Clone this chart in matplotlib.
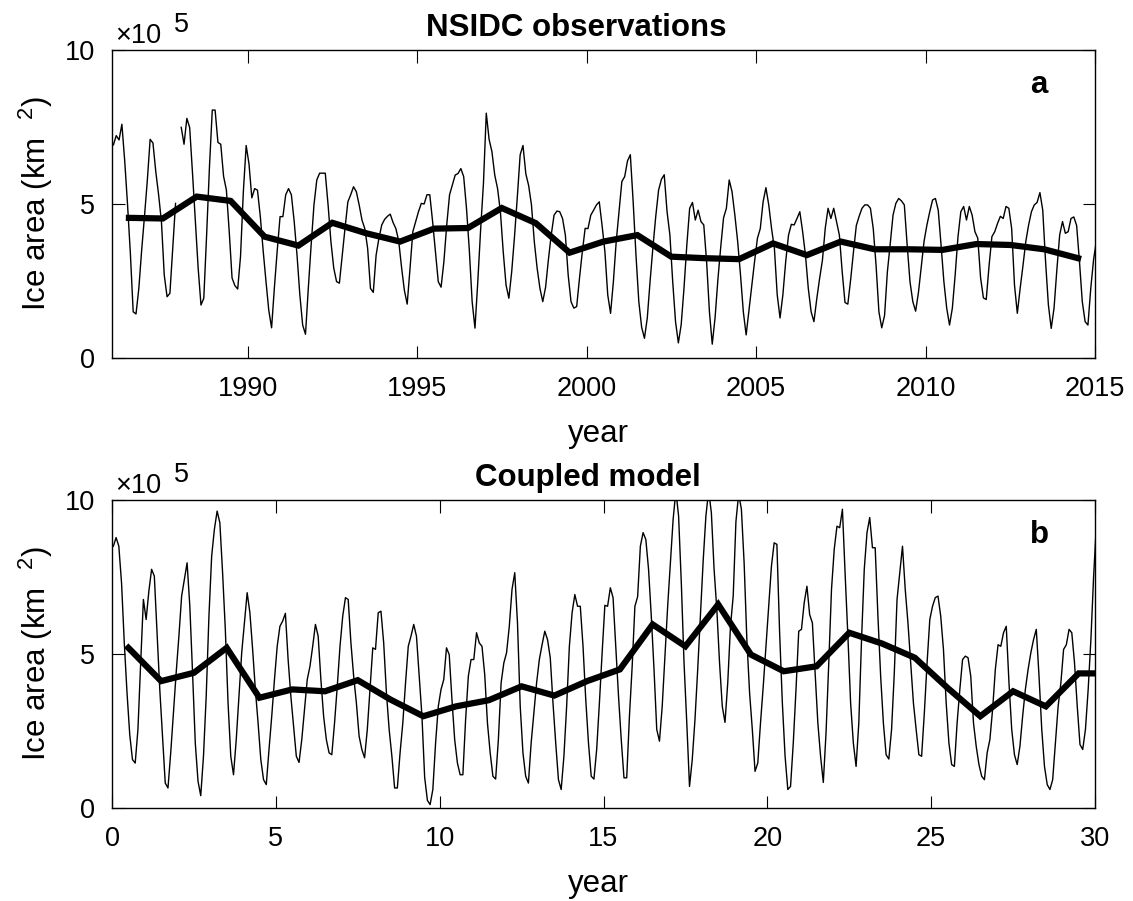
import matplotlib
matplotlib.use('Agg')
import matplotlib.pyplot as plt
import numpy as np

plt.rcParams['font.family'] = ['Liberation Sans', 'DejaVu Sans']
plt.rcParams['mathtext.fontset'] = 'custom'
plt.rcParams['mathtext.rm'] = 'Liberation Sans'

nan = np.nan

# NSIDC monthly ice area (x 1e5 km^2), one row per year 1986..2014, Jan..Dec
nsidc_years = list(range(1986, 2015))
nsidc_monthly = [
    [6.92, 7.22, 7.08, 7.59, 6.40, 4.98, 3.40, 1.50, 1.43, 2.26, 3.50, 4.60],
    [5.76, 7.10, 6.98, 6.05, 5.30, 4.43, 2.69, 1.99, 2.10, 3.56, 5.02, nan],
    [7.49, 6.94, 7.78, 7.48, 6.00, 4.43, 2.92, 1.72, 1.94, 4.00, 6.20, 8.05],
    [8.05, 7.00, 6.94, 5.90, 5.45, 4.10, 2.60, 2.35, 2.24, 3.30, 5.40, 6.90],
    [6.30, 5.20, 5.50, 5.45, 4.60, 3.50, 2.50, 1.55, 0.98, 2.30, 3.50, 4.59],
    [4.59, 5.30, 5.50, 5.30, 4.43, 3.34, 2.05, 1.07, 0.77, 2.27, 3.67, 4.97],
    [5.78, 6.00, 6.00, 6.00, 4.97, 3.78, 2.92, 2.48, 2.43, 3.34, 4.22, 5.07],
    [5.30, 5.56, 5.40, 4.97, 4.48, 4.20, 3.56, 2.26, 2.13, 3.34, 3.89, 4.32],
    [4.50, 4.60, 4.67, 4.40, 4.20, 3.80, 2.95, 2.20, 1.75, 2.90, 4.10, 4.43],
    [4.75, 5.02, 5.00, 5.30, 5.30, 4.43, 3.45, 2.48, 2.30, 3.13, 4.32, 5.30],
    [5.62, 5.94, 5.99, 6.15, 5.89, 4.86, 3.50, 1.83, 0.97, 2.48, 4.17, 5.67],
    [7.95, 7.10, 6.70, 5.94, 5.50, 4.75, 3.45, 2.37, 1.94, 2.80, 3.95, 5.24],
    [6.60, 6.90, 5.98, 5.60, 4.97, 3.78, 2.92, 2.26, 1.83, 2.30, 3.20, 4.00],
    [4.64, 4.77, 4.75, 4.53, 3.99, 2.69, 1.83, 1.62, 1.67, 2.59, 3.45, 4.21],
    [4.20, 4.64, 4.80, 4.97, 5.07, 4.30, 3.45, 2.05, 1.45, 2.48, 3.78, 4.75],
    [5.73, 5.89, 6.40, 6.60, 5.07, 3.34, 1.83, 1.00, 0.64, 1.30, 2.50, 3.60],
    [4.60, 5.45, 5.80, 5.95, 4.75, 4.00, 2.48, 1.18, 0.49, 1.08, 2.27, 3.67],
    [4.86, 5.05, 4.48, 4.80, 4.43, 4.32, 3.13, 1.50, 0.45, 1.31, 2.55, 3.60],
    [4.55, 4.86, 5.78, 5.40, 4.64, 3.78, 2.70, 1.50, 0.75, 1.56, 2.37, 3.15],
    [3.89, 4.20, 5.07, 5.53, 4.97, 4.20, 3.56, 2.05, 1.30, 2.05, 3.13, 3.99],
    [4.34, 4.32, 4.53, 4.75, 4.10, 3.34, 2.26, 1.50, 1.18, 1.92, 2.58, 3.17],
    [4.21, 4.86, 4.53, 4.86, 4.43, 3.99, 2.80, 1.80, 1.75, 2.55, 3.45, 4.30],
    [4.60, 4.86, 4.97, 4.97, 4.86, 4.20, 3.00, 1.50, 0.98, 1.38, 2.80, 3.70],
    [4.64, 5.02, 5.18, 5.10, 4.97, 3.67, 2.48, 1.83, 1.52, 2.13, 2.95, 3.80],
    [4.32, 4.75, 5.13, 5.18, 4.80, 3.67, 2.48, 1.62, 1.07, 1.62, 2.70, 3.94],
    [4.75, 4.92, 4.48, 4.92, 4.64, 4.10, 3.89, 2.60, 1.95, 1.90, 3.00, 3.94],
    [4.10, 4.37, 4.60, 4.53, 4.92, 4.86, 4.20, 2.37, 1.45, 2.26, 3.00, 3.78],
    [4.32, 4.75, 4.97, 5.05, 5.37, 4.80, 3.13, 1.72, 0.96, 1.62, 2.87, 4.00],
    [4.43, 4.05, 4.10, 4.53, 4.58, 4.30, 3.13, 1.83, 1.18, 1.07, 2.26, 3.20],
]
nsidc_jan2015 = 3.8
nsidc_annual = [4.55, 4.53, 5.24, 5.10, 3.94, 3.65, 4.39, 4.05, 3.78, 4.20,
                4.22, 4.87, 4.38, 3.42, 3.78, 3.99, 3.29, 3.24, 3.21, 3.72,
                3.34, 3.78, 3.53, 3.53, 3.51, 3.70, 3.67, 3.53, 3.24]

# coupled model monthly ice area, model years 0..29
model_monthly = [
    [8.50, 8.78, 8.50, 7.30, 5.36, 3.74, 2.38, 1.57, 1.46, 2.55, 4.71, 6.77],
    [6.12, 7.04, 7.75, 7.53, 5.69, 3.85, 2.33, 0.81, 0.65, 1.79, 3.09, 4.39],
    [5.58, 6.88, 7.42, 7.96, 6.55, 4.39, 2.11, 0.87, 0.40, 1.68, 3.63, 6.23],
    [8.18, 9.05, 9.64, 9.26, 7.64, 5.80, 3.41, 1.68, 1.08, 2.22, 3.63, 5.04],
    [6.01, 6.99, 6.34, 5.15, 3.85, 2.76, 1.57, 0.92, 0.76, 1.90, 2.98, 4.17],
    [5.25, 5.90, 6.07, 6.32, 4.82, 3.63, 2.65, 1.68, 1.48, 2.22, 3.20, 4.17],
    [4.60, 5.25, 5.96, 5.58, 4.17, 2.98, 2.22, 1.79, 1.73, 2.76, 3.95, 5.25],
    [6.23, 6.83, 6.77, 5.36, 4.28, 3.41, 2.33, 1.90, 1.63, 2.55, 3.85, 5.20],
    [5.15, 6.34, 6.39, 5.36, 3.74, 2.55, 1.68, 0.65, 0.65, 1.79, 2.76, 4.06],
    [5.25, 5.58, 5.96, 5.58, 4.30, 3.00, 1.00, 0.25, 0.11, 0.60, 2.10, 3.30],
    [3.85, 4.17, 5.20, 4.98, 3.52, 2.22, 1.46, 1.08, 1.08, 2.87, 4.28, 4.82],
    [4.82, 5.69, 5.36, 5.25, 4.33, 2.76, 1.79, 1.03, 0.94, 2.22, 4.06, 4.71],
    [5.04, 5.90, 7.10, 7.64, 6.01, 3.30, 1.79, 1.03, 0.81, 2.11, 3.09, 4.06],
    [4.82, 5.30, 5.74, 5.47, 4.88, 3.41, 2.11, 0.92, 0.60, 1.68, 3.30, 5.25],
    [6.34, 6.93, 6.55, 6.55, 5.25, 3.52, 2.11, 1.03, 0.94, 1.90, 3.41, 5.04],
    [6.58, 6.55, 7.15, 6.83, 5.25, 3.63, 2.22, 0.98, 0.98, 2.98, 4.60, 6.55],
    [6.86, 8.50, 8.94, 8.72, 7.75, 6.23, 4.50, 2.55, 2.17, 3.30, 4.93, 6.55],
    [7.96, 9.37, 10.3, 9.48, 7.30, 4.70, 2.76, 0.70, 1.57, 2.87, 4.50, 6.23],
    [8.02, 9.48, 10.3, 9.59, 7.75, 6.45, 4.71, 3.30, 2.78, 4.06, 5.90, 6.88],
    [9.30, 10.2, 9.70, 7.96, 5.47, 3.74, 2.55, 1.19, 1.46, 2.76, 3.95, 5.25],
    [6.55, 7.85, 8.61, 8.56, 5.69, 3.41, 1.68, 0.60, 0.70, 2.11, 3.85, 5.74],
    [5.80, 6.66, 7.20, 6.28, 6.01, 4.39, 2.76, 1.68, 0.83, 2.44, 4.71, 7.10],
    [8.40, 9.15, 9.10, 9.70, 7.58, 5.58, 3.41, 2.11, 1.35, 2.76, 5.47, 7.75],
    [8.94, 9.43, 8.45, 8.45, 6.23, 4.28, 2.76, 1.73, 1.59, 2.55, 4.39, 6.77],
    [7.64, 8.50, 7.10, 6.01, 4.71, 3.41, 2.55, 1.73, 1.68, 3.09, 4.71, 6.12],
    [6.55, 6.83, 6.88, 6.23, 5.15, 3.41, 2.11, 1.41, 1.35, 2.76, 3.85, 4.82],
    [4.93, 4.88, 4.28, 2.76, 2.00, 1.41, 1.03, 0.92, 1.79, 2.22, 3.20, 4.50],
    [5.30, 5.25, 5.69, 5.90, 4.06, 2.55, 1.73, 1.41, 2.00, 2.98, 3.85, 4.50],
    [5.04, 5.47, 5.80, 4.28, 2.55, 1.35, 0.76, 0.60, 0.92, 2.11, 3.30, 4.06],
    [5.15, 5.30, 5.80, 5.69, 4.71, 3.30, 2.06, 1.90, 2.55, 3.85, 5.47, 7.53],
]
model_jan30 = 9.2
model_annual = [5.20, 4.12, 4.39, 5.20, 3.58, 3.85, 3.79, 4.15, 3.52, 2.98,
                3.30, 3.50, 3.95, 3.65, 4.12, 4.50, 5.96, 5.25, 6.61, 4.98,
                4.44, 4.60, 5.69, 5.34, 4.88, 3.90, 2.98, 3.79, 3.30, 4.37,
                4.37]

months = (np.arange(12) + 0.5) / 12

t_obs = np.concatenate([y + months for y in nsidc_years] + [[2015 + months[0]]])
v_obs = np.concatenate([np.array(r) for r in nsidc_monthly] + [[nsidc_jan2015]])
t_obs_ann = np.array(nsidc_years) + 0.5

t_mod = np.concatenate([y + months for y in range(len(model_monthly))] + [[30 + months[0]]])
v_mod = np.concatenate([np.array(r) for r in model_monthly] + [[model_jan30]])
t_mod_ann = np.arange(len(model_annual)) + 0.5

W, H = 1133, 901
fig = plt.figure(figsize=(W / 100, H / 100), dpi=100)
ax1 = fig.add_axes([112 / W, 1 - 358 / H, 983 / W, 308 / H])
ax2 = fig.add_axes([112 / W, 1 - 808 / H, 983 / W, 308 / H])

tick_fs = 19.5
lab_fs = 22.5

panels = [
    (ax1, t_obs, v_obs, t_obs_ann, nsidc_annual, (1986, 2015), range(1990, 2016, 5),
     'NSIDC observations', 576, 'a', 0),
    (ax2, t_mod, v_mod, t_mod_ann, model_annual, (0, 30), range(0, 31, 5),
     'Coupled model', 588, 'b', 450),
]

for ax, t, v, ta, va, xl, xt, title, tx, letter, dy in panels:
    ax.plot(t, v, color='black', lw=1.0)
    ax.plot(ta, va, color='black', lw=4.5, solid_joinstyle='miter')
    ax.set_xlim(*xl)
    ax.set_ylim(0, 10)
    ax.set_xticks(list(xt))
    ax.set_yticks([0, 5, 10])
    ax.tick_params(direction='in', top=True, right=True, length=9, width=0.8,
                   labelsize=tick_fs)
    ax.tick_params(axis='x', pad=13)
    ax.tick_params(axis='y', pad=12)
    for s in ax.spines.values():
        s.set_linewidth(1.0)
    fig.text(tx / W, 1 - (36 + dy) / H, title, ha='center', va='baseline',
             fontsize=lab_fs, fontweight='bold')
    fig.text(598 / W, 1 - (442 + dy) / H, 'year', ha='center', va='baseline',
             fontsize=lab_fs)
    fig.text(36 / W, 1 - (204 + dy) / H, 'Ice area (km  $^{2}$)', ha='center',
             va='center', rotation=90, fontsize=lab_fs)
    fig.text(115 / W, 1 - (43 + dy) / H, '\u00d710', ha='left', va='baseline',
             fontsize=tick_fs)
    fig.text(174 / W, 1 - (32 + dy) / H, '5', ha='left', va='baseline',
             fontsize=tick_fs)
    fig.text(1030 / W, 1 - (93 + dy) / H, letter, ha='left', va='baseline',
             fontsize=lab_fs, fontweight='bold')

fig.savefig('out.png', dpi=100, facecolor='white')
